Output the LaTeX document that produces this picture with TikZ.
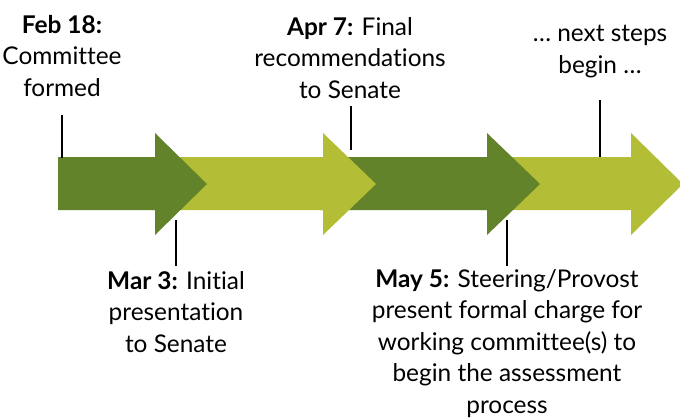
\documentclass[tikz,border=0pt]{standalone}
\usepackage{fontspec}
\setmainfont{Lato}[Ligatures=NoCommon]
\usetikzlibrary{positioning}
\definecolor{leafdark}{RGB}{99,131,43}
\definecolor{leaflight}{RGB}{179,189,53}
\tikzset{
    darkstep/.style={
        fill=leafdark,
    },
    lightstep/.style={
        fill=leaflight,
    },
    tick/.style={
        draw=black,
        line width=1.1pt,
    },
    note/.style={
        align=center,
        inner sep=0pt,
        anchor=base,
        font=\fontsize{18.3}{23.6}\selectfont,
    },
  }
% one chevron step: style, left end, head base, tip
\newcommand{\timestep}[4]{%
  \fill[#1] (#2,157) -- (#3,157) -- (#3,133) -- (#4,184) -- (#3,235) -- (#3,210) -- (#2,210) -- cycle;}

\begin{document}
\begin{tikzpicture}[x=0.75pt,y=-0.75pt]
              \useasboundingbox (0,0) rectangle (680,418);

              % later steps lie under earlier ones
              \timestep{lightstep}{480}{631}{683}
              \timestep{darkstep}{320}{487}{540}
              \timestep{lightstep}{150}{323}{376}
              \timestep{darkstep}{58}{155}{207}

              \coordinate (feb top) at (62,115);
              \coordinate (feb bot) at (62,158);
              \coordinate (apr top) at (351,106);
              \coordinate (apr bot) at (351,150);
              \coordinate (next top) at (600,100);
              \coordinate (next bot) at (600,157);
              \coordinate (mar top) at (176,220);
              \coordinate (mar bot) at (176,266);
              \coordinate (may top) at (507,220);
              \coordinate (may bot) at (507,266);

              \draw[tick] (feb top) -- (feb bot);
              \draw[tick] (apr top) -- (apr bot);
              \draw[tick] (next top) -- (next bot);
              \draw[tick] (mar top) -- (mar bot);
              \draw[tick] (may top) -- (may bot);

              % base anchor sits on the last line
              \node [note] (feb) at (62,96) {\textbf{Feb 18:}\\Committee\\formed};
              \node [note] (apr) at (350,98) {\textbf{Apr 7:} Final\\recommendations\\to Senate};
              \node [note] (next) at (600,73) {\dots\ next steps\\begin \dots};
              \node [note] (mar) at (176,352) {\textbf{Mar 3:} Initial\\presentation\\to Senate};
              \node [note] (may) at (507,413) {\textbf{May 5:} Steering/Provost\\present formal charge for\\working committee(s) to\\begin the assessment\\process};

            \end{tikzpicture}
\end{document}
